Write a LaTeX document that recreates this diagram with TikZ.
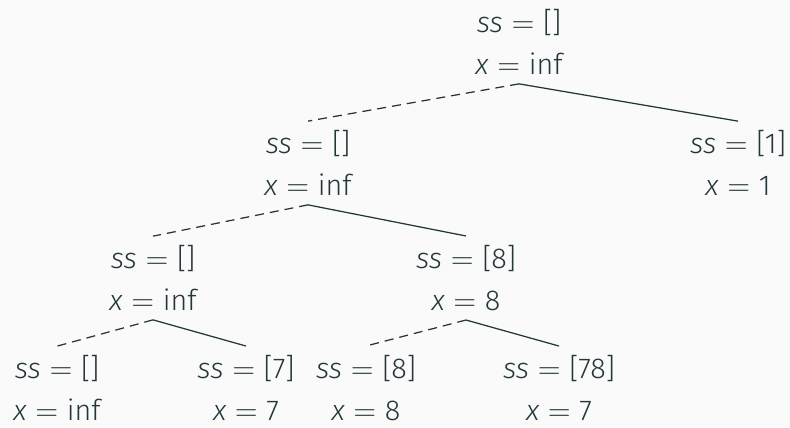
\documentclass[tikz,border=0pt]{standalone}
\usepackage{fontspec}
\setmainfont{Fira Sans Light}[ItalicFont={Fira Sans Light Italic}]
\usepackage{tikz}
\definecolor{slate}{RGB}{35,55,59}
\definecolor{paper}{RGB}{250,250,250}
\newcommand{\kv}[2]{\textit{#1}\hspace{.3em}$=$\hspace{.3em}#2}

\begin{document}
\begin{tikzpicture}[x=0.4pt,y=-0.4pt,
    state/.style={align=center,text=slate,inner xsep=0pt,inner ysep=3.5pt,
      font=\fontsize{11.5}{16.8}\selectfont},
    taken/.style={draw=slate,line width=0.5pt},
    skipped/.style={draw=slate,line width=0.5pt,dash pattern=on 3.6pt off 2.4pt}]
  \fill[paper] (0,0) rectangle (790,427);
  \useasboundingbox (0,0) rectangle (790,427);
  % search tree
  \node[state] (root) at (519,42)  {\kv{ss}{[]}\\\kv{x}{inf}};
  \node[state] (l)    at (308,163) {\kv{ss}{[]}\\\kv{x}{inf}};
  \node[state] (r)    at (738,163) {\kv{ss}{[1]}\\\kv{x}{1}};
  \node[state] (ll)   at (153,278) {\kv{ss}{[]}\\\kv{x}{inf}};
  \node[state] (lr)   at (466,278) {\kv{ss}{[8]}\\\kv{x}{8}};
  \node[state] (lll)  at (57,388)  {\kv{ss}{[]}\\\kv{x}{inf}};
  \node[state] (llr)  at (246,388) {\kv{ss}{[7]}\\\kv{x}{7}};
  \node[state] (lrl)  at (366,388) {\kv{ss}{[8]}\\\kv{x}{8}};
  \node[state] (lrr)  at (559,388) {\kv{ss}{[78]}\\\kv{x}{7}};
  \draw[skipped] (root.south) -- (l.north);
  \draw[taken]   (root.south) -- (r.north);
  \draw[skipped] (l.south) -- (ll.north);
  \draw[taken]   (l.south) -- (lr.north);
  \draw[skipped] (ll.south) -- (lll.north);
  \draw[taken]   (ll.south) -- (llr.north);
  \draw[skipped] (lr.south) -- (lrl.north);
  \draw[taken]   (lr.south) -- (lrr.north);
\end{tikzpicture}
\end{document}
